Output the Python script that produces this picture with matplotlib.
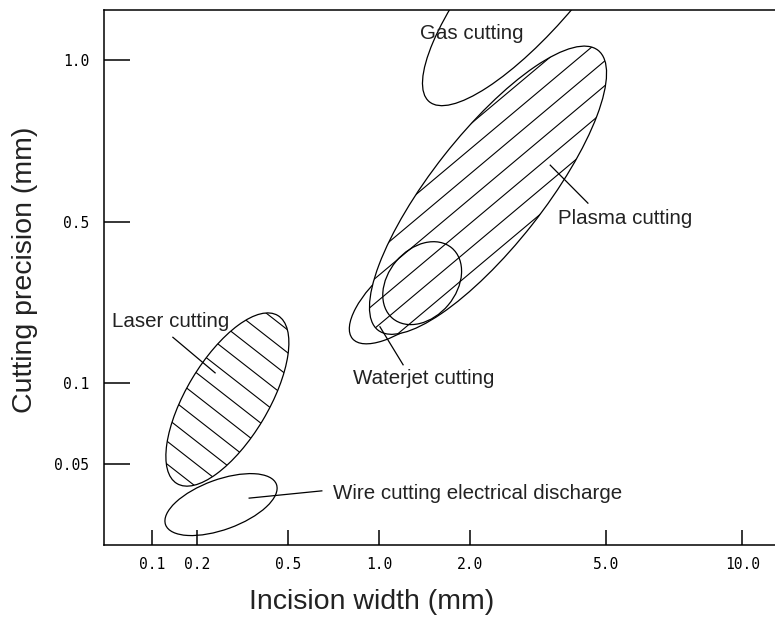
import numpy as np
import matplotlib.pyplot as plt
from matplotlib.patches import Ellipse
from matplotlib.transforms import Affine2D, ScaledTranslation

# axis tick labels and where they sit on the (uneven) axis
x_labels = ["0.1", "0.2", "0.5", "1.0", "2.0", "5.0", "10.0"]
x_pos = [1, 2, 4, 6, 8, 11, 14]
y_labels = ["0.05", "0.1", "0.5", "1.0"]
y_pos = [1, 2, 4, 6]

# regions: centre (axis units), width/height (px), tilt (deg)
names = ["Gas cutting", "Waterjet cutting", "Plasma cutting", "", "Laser cutting",
         "Wire cutting electrical discharge"]
cx = [9.44, 6.68, 8.40, 6.95, 2.66, 2.52]
cy = [7.05, 3.15, 4.39, 3.24, 1.80, 0.50]
w = [330, 150, 356, 92, 196, 118]
h = [100, 60, 112, 68, 82, 50]
ang = [50, 40, 51.8, 50, 59, 20]
fill = [False, True, True, False, False, False]
hatch_ang = [None, None, 40, None, -38, None]
hatch_gap = [None, None, 19, None, 18, None]

# label text position and leader line (axis units)
lab_x = [6.90, 5.43, 9.94, None, 0.12, 4.99]
lab_y = [6.33, 2.06, 4.04, None, 2.76, 0.64]
lead = [None, [(6.02, 2.70), (6.53, 2.23)], [(9.77, 4.70), (10.60, 4.23)], None,
        [(1.46, 2.57), (2.39, 2.13)], [(3.14, 0.58), (4.74, 0.67)]]

fig = plt.figure(figsize=(7.75, 6.19), dpi=100)
ax = fig.add_axes([104/775, 1-545/619, 1-104/775, 535/619])
ax.set_xlim(-0.057, 14.72)
ax.set_ylim(0, 6.62)

for i in range(len(cx)):
    tr = Affine2D() + ScaledTranslation(cx[i], cy[i], ax.transData)
    e = Ellipse((0, 0), w[i], h[i], angle=ang[i], transform=tr,
                facecolor="white" if fill[i] else "none", edgecolor="black",
                lw=0.9, zorder=2 + i*0.1)
    ax.add_patch(e)
    if hatch_ang[i] is not None:
        phi = np.radians(hatch_ang[i])
        d = np.array([np.cos(phi), np.sin(phi)])
        n = np.array([-np.sin(phi), np.cos(phi)])
        L = w[i]
        for k in np.arange(-L, L, hatch_gap[i]):
            p0 = n*k - d*L
            p1 = n*k + d*L
            ln, = ax.plot([p0[0], p1[0]], [p0[1], p1[1]], color="black", lw=0.8,
                          transform=tr, zorder=2 + i*0.1 + 0.05)
            ln.set_clip_path(e)

for i in range(len(names)):
    if lab_x[i] is not None:
        ax.text(lab_x[i], lab_y[i], names[i], fontsize=14.8, family="Liberation Sans",
                va="center", ha="left", color="#222222", zorder=5)
    if lead[i] is not None:
        ax.plot([lead[i][0][0], lead[i][1][0]], [lead[i][0][1], lead[i][1][1]],
                color="black", lw=0.9, zorder=5)

ax.spines["right"].set_visible(False)
for s in ["left", "bottom", "top"]:
    ax.spines[s].set_linewidth(1.1)

ax.set_xticks(x_pos)
ax.set_xticklabels(x_labels, family="DejaVu Sans Mono", fontsize=10.5)
ax.set_yticks(y_pos)
ax.set_yticklabels(y_labels, family="DejaVu Sans Mono", fontsize=10.5)
ax.tick_params(axis="x", direction="in", length=10.8, width=1.1, pad=8.5)
ax.tick_params(axis="y", direction="in", length=18.7, width=1.1, pad=10.5)

fig.text(372/775, 1-602/619, "Incision width (mm)", fontsize=20.5, family="Liberation Sans",
         ha="center", va="center", color="#222222")
fig.text(25/775, 1-270/619, "Cutting precision (mm)", fontsize=20.5, family="Liberation Sans",
         ha="center", va="center", rotation=90, color="#222222")

fig.savefig("out.png", dpi=100)
